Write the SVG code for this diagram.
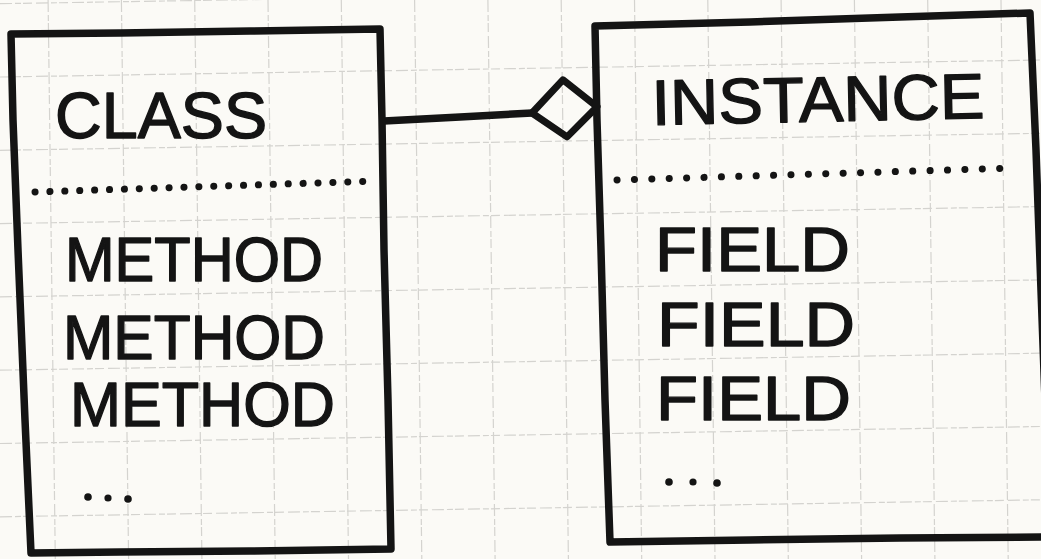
<svg xmlns="http://www.w3.org/2000/svg" width="1041" height="559" viewBox="0 0 1041 559">
  <style>
    .grid { stroke: #d4d3cf; stroke-width: 1.2; fill: none; stroke-dasharray: 12 3 6 2 9 4; }
    .box { fill: none; stroke: #141414; stroke-width: 7.5; stroke-linejoin: round; stroke-linecap: round; }
    .dots { fill: none; stroke: #141414; stroke-width: 7; stroke-linecap: round; }
    .hand { font-family: "Liberation Sans", "DejaVu Sans", sans-serif; fill: #141414; stroke: #141414; stroke-width: 1.4; stroke-linejoin: round; }
    .title { font-size: 64px; }
    .item { font-size: 63px; }
    .ell { fill: #141414; }
    .link { fill: none; stroke: #141414; stroke-width: 7.5; stroke-linecap: round; stroke-linejoin: round; }
  </style>
  <defs>
    <marker id="aggregation" markerUnits="userSpaceOnUse" orient="auto" refX="0" refY="0" markerWidth="90" markerHeight="90" viewBox="-10 -45 90 90" overflow="visible">
      <path d="M0,0 L32.7,-31.4 L65.3,-2.6 L33.7,25.8 Z" fill="none" stroke="#141414" stroke-width="7" stroke-linejoin="round"/>
    </marker>
  </defs>
  <rect width="1041" height="559" fill="#fbfaf6"/>
  <g id="grid">
    <path class="grid" d="M0,3.7 L1041,-13.3 M0,77 L1041,60 M0,150.3 L1041,133.3 M0,223.6 L1041,206.6 M0,296.9 L1041,279.9 M0,370.2 L1041,353.2 M0,443.5 L1041,426.5 M0,516.8 L1041,499.8 M0,590.1 L1041,573.1"/>
    <path class="grid" d="M48.1,0 L55.3,559 M121.4,0 L128.6,559 M194.7,0 L201.9,559 M268,0 L275.2,559 M341.3,0 L348.5,559 M414.6,0 L421.8,559 M487.9,0 L495.1,559 M561.2,0 L568.4,559 M634.5,0 L641.7,559 M707.8,0 L715,559 M781.1,0 L788.3,559 M854.4,0 L861.6,559 M927.7,0 L934.9,559 M1001,0 L1008.2,559"/>
  </g>
  <g id="connectors">
    <path class="link" d="M384,121 L460,117 L532,113" marker-end="url(#aggregation)"/>
  </g>
  <g id="class-node">
    <path class="box" d="M11,34 L120,33 L250,31 L380,29 L382,120 L384,250 L388,400 L391,549 L250,551 L120,552 L31,553 L25,420 L18,250 L13,120 Z"/>
    <text class="hand title" x="55" y="138" textLength="212" lengthAdjust="spacingAndGlyphs">CLASS</text>
    <path class="dots" d="M35,192 L377,181" stroke-dasharray="0.1 14.8"/>
    <text class="hand item" x="65" y="281" textLength="258" lengthAdjust="spacingAndGlyphs">METHOD</text>
    <text class="hand item" x="63" y="359" textLength="262" lengthAdjust="spacingAndGlyphs">METHOD</text>
    <text class="hand item" x="70" y="426" textLength="265" lengthAdjust="spacingAndGlyphs">METHOD</text>
    <circle class="ell" cx="88" cy="497" r="3.8"/>
    <circle class="ell" cx="108" cy="498" r="3.6"/>
    <circle class="ell" cx="128" cy="499" r="3.8"/>
  </g>
  <g id="instance-node">
    <path class="box" d="M595,26 L750,22 L900,17 L1030,13 L1036,150 L1041,290 L1050,537 L900,538 L750,540 L610,542 L605,400 L601,250 L597,120 Z"/>
    <text class="hand title" x="652" y="125" textLength="333" lengthAdjust="spacingAndGlyphs" transform="rotate(-1.2 652 125)">INSTANCE</text>
    <path class="dots" d="M617,180 L1015,168" stroke-dasharray="0.1 17.3"/>
    <text class="hand item" x="655" y="271" textLength="195" lengthAdjust="spacingAndGlyphs">FIELD</text>
    <text class="hand item" x="657" y="346" textLength="198" lengthAdjust="spacingAndGlyphs">FIELD</text>
    <text class="hand item" x="656" y="420" textLength="195" lengthAdjust="spacingAndGlyphs">FIELD</text>
    <circle class="ell" cx="669" cy="482" r="3.8"/>
    <circle class="ell" cx="693" cy="482" r="3.6"/>
    <circle class="ell" cx="717" cy="483" r="3.8"/>
  </g>
</svg>
